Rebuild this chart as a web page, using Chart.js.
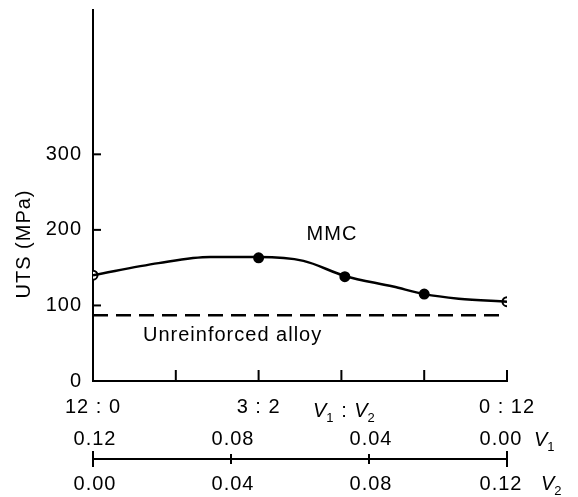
<!DOCTYPE html>
<html>
<head>
<meta charset="utf-8">
<script src="https://cdn.jsdelivr.net/npm/chart.js@4.4.1/dist/chart.umd.min.js"></script>
<style>
  html, body { margin: 0; padding: 0; background: #fff; }
  #wrap { width: 578px; height: 497px; }
</style>
</head>
<body>
<div id="wrap"><canvas id="utsChart"></canvas></div>
<script>
// bottom axis runs in V2 (V1 = 0.12 - V2)
const pointV2 = [0, 0.048, 0.073, 0.096, 0.12];
const pointUTS = [140, 163, 138, 115, 105];
const curveV2 = [0, 0.019, 0.034, 0.048, 0.061, 0.073, 0.087, 0.096, 0.106, 0.12];
const curveUTS = [140, 156, 164, 164, 159, 139, 125, 115, 109, 105];
const alloyV2 = [0, 0.12];
const alloyUTS = [87, 87];
const yTicks = [0, 100, 200, 300];
const ratioTicks = [0, 0.024, 0.048, 0.072, 0.096, 0.12];
const ratioLabels = ['12 : 0', '', '3 : 2', '', '', '0 : 12'];
const fractionTicks = [0, 0.04, 0.08, 0.12];
const v1Labels = ['0.12', '0.08', '0.04', '0.00'];
const v2Labels = ['0.00', '0.04', '0.08', '0.12'];

const FONT = '"Liberation Sans", Arial, sans-serif';
const SIZE = 20;
Chart.defaults.font.family = FONT;
Chart.defaults.color = '#000';

function italicSub(ctx, x, y, letter, sub) {
    ctx.font = 'italic ' + SIZE + 'px ' + FONT;
    ctx.fillText(letter, x, y);
    const w = ctx.measureText(letter).width;
    ctx.font = Math.round(SIZE * 0.65) + 'px ' + FONT;
    ctx.fillText(sub, x + w - 1, y + 5);
    return w - 1 + ctx.measureText(sub).width;
}

const extras = {
    id: 'extras',
    beforeDraw(chart) {
        chart.ctx.letterSpacing = '1px';
    },
    afterDraw(chart) {
        const ctx = chart.ctx;
        const xs = chart.scales.x;
        const ys = chart.scales.y;
        const area = chart.chartArea;
        ctx.save();
        ctx.strokeStyle = '#000';
        ctx.fillStyle = '#000';
        ctx.lineWidth = 2;

        // tick marks point into the plot
        ratioTicks.forEach(function (v) {
            const px = xs.getPixelForValue(v);
            ctx.beginPath();
            ctx.moveTo(px, area.bottom);
            ctx.lineTo(px, area.bottom - 11);
            ctx.stroke();
        });
        yTicks.slice(1).forEach(function (v) {
            const py = ys.getPixelForValue(v);
            ctx.beginPath();
            ctx.moveTo(area.left, py);
            ctx.lineTo(area.left + 8, py);
            ctx.stroke();
        });

        // y title
        ctx.save();
        ctx.translate(24, 244);
        ctx.rotate(-Math.PI / 2);
        ctx.font = SIZE + 'px ' + FONT;
        ctx.textAlign = 'center';
        ctx.textBaseline = 'middle';
        ctx.fillText('UTS (MPa)', 0, 0);
        ctx.restore();

        // labels on the curves
        ctx.font = SIZE + 'px ' + FONT;
        ctx.textBaseline = 'alphabetic';
        ctx.textAlign = 'center';
        ctx.fillText('MMC', 332, 240);
        ctx.textAlign = 'left';
        ctx.fillText('Unreinforced alloy', 143, 341);

        // V1 : V2 caption
        let cx = 313;
        cx += italicSub(ctx, cx, 417, 'V', '1');
        ctx.font = SIZE + 'px ' + FONT;
        ctx.fillText(' : ', cx, 417);
        cx += ctx.measureText(' : ').width;
        italicSub(ctx, cx, 417, 'V', '2');

        // volume fraction number line
        const lineY = 459;
        const x0 = xs.getPixelForValue(0);
        const x1 = xs.getPixelForValue(0.12);
        ctx.beginPath();
        ctx.moveTo(x0, lineY);
        ctx.lineTo(x1, lineY);
        ctx.stroke();
        fractionTicks.forEach(function (v, i) {
            const px = xs.getPixelForValue(v);
            const last = i === fractionTicks.length - 1;
            const h = (i === 0 || last) ? 8 : 5;
            ctx.beginPath();
            ctx.moveTo(px, lineY - h);
            ctx.lineTo(px, lineY + h);
            ctx.stroke();
            ctx.font = SIZE + 'px ' + FONT;
            ctx.textAlign = 'center';
            const lx = last ? px - 6 : px + 2;
            ctx.fillText(v1Labels[i], lx, 445);
            ctx.fillText(v2Labels[i], lx, 490);
        });
        ctx.textAlign = 'left';
        italicSub(ctx, 534, 446, 'V', '1');
        italicSub(ctx, 541, 490, 'V', '2');
        ctx.restore();
    }
};

const ctx = document.getElementById('utsChart').getContext('2d');
const utsChart = new Chart(ctx, {
    type: 'scatter',
    data: {
        datasets: [
            {
                label: 'MMC curve',
                data: curveV2.map((v, i) => ({ x: v, y: curveUTS[i] })),
                showLine: true,
                borderColor: '#000',
                borderWidth: 2.5,
                pointRadius: 0,
                cubicInterpolationMode: 'monotone'
            },
            {
                label: 'MMC',
                data: pointV2.map((v, i) => ({ x: v, y: pointUTS[i] })),
                showLine: false,
                pointRadius: 4.5,
                pointBorderWidth: 2,
                pointBorderColor: '#000',
                pointBackgroundColor: ['#fff', '#000', '#000', '#000', '#fff']
            },
            {
                label: 'Unreinforced alloy',
                data: alloyV2.map((v, i) => ({ x: v, y: alloyUTS[i] })),
                showLine: true,
                borderColor: '#000',
                borderWidth: 2.5,
                borderDash: [15, 8],
                pointRadius: 0
            }
        ]
    },
    options: {
        responsive: true,
        maintainAspectRatio: false,
        animation: false,
        layout: { padding: { left: 0, top: 10, right: 71, bottom: 0 } },
        plugins: {
            legend: { display: false },
            tooltip: { enabled: false }
        },
        scales: {
            x: {
                type: 'linear',
                min: 0,
                max: 0.12,
                afterBuildTicks: s => { s.ticks = ratioTicks.map(v => ({ value: v })); },
                afterFit: s => { s.height = 116; s.paddingLeft = 0; s.paddingRight = 0; },
                grid: { display: false, drawTicks: false },
                border: { display: true, color: '#000', width: 2 },
                ticks: {
                    padding: 14,
                    maxRotation: 0,
                    autoSkip: false,
                    font: { size: SIZE },
                    callback: (v, i) => ratioLabels[i]
                }
            },
            y: {
                type: 'linear',
                min: 0,
                max: 491,
                afterBuildTicks: s => { s.ticks = yTicks.map(v => ({ value: v })); },
                afterFit: s => { s.width = 93; s.paddingTop = 0; s.paddingBottom = 0; },
                grid: { display: false, drawTicks: false },
                border: { display: true, color: '#000', width: 2 },
                ticks: {
                    padding: 11,
                    font: { size: SIZE }
                }
            }
        }
    },
    plugins: [extras]
});
</script>
</body>
</html>
